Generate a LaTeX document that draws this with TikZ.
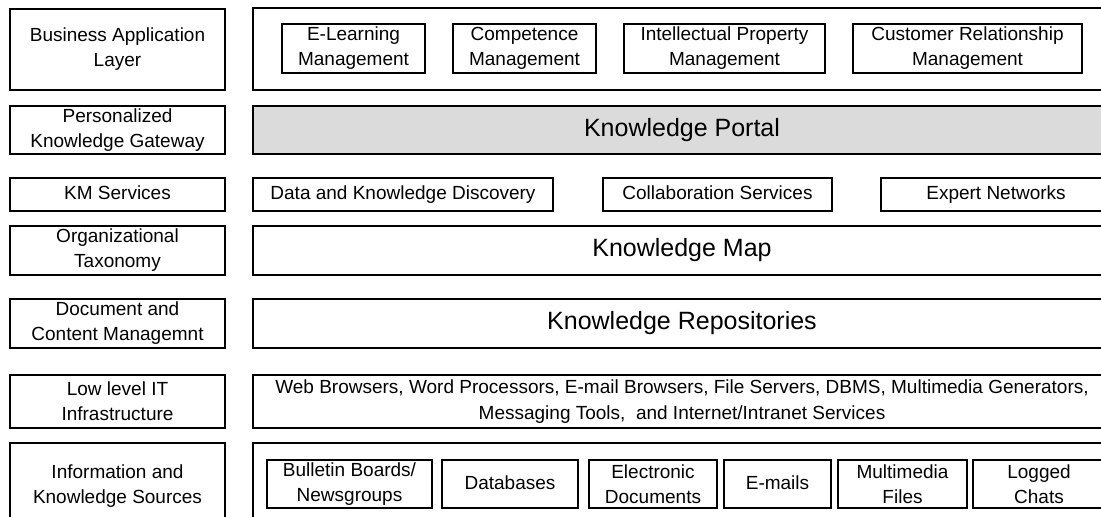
\documentclass[tikz,border=0pt]{standalone}
\usepackage{fontspec}
\setmainfont{Liberation Sans}
\usepackage{tikz}
\usetikzlibrary{positioning}
\tikzstyle{layer} = [rectangle, draw=black, line width=0.8pt, inner sep=0pt, minimum width=107.5pt, text centered, align=center, font=\fontsize{9.5}{12.5}\selectfont]
\tikzstyle{band} = [rectangle, draw=black, line width=0.8pt, inner sep=0pt, minimum width=429pt, text centered, align=center, font=\fontsize{12.5}{15}\selectfont]
\tikzstyle{item} = [rectangle, draw=black, line width=0.8pt, inner sep=0pt, text centered, align=center, font=\fontsize{9.5}{12.5}\selectfont]
\tikzstyle{oneline} = [text height=7pt, text depth=2pt]

\begin{document}
\begin{tikzpicture}[x=0.5pt, y=-0.5pt]

        \useasboundingbox (0,0) rectangle (1101,517);
        \clip (0,0) rectangle (1101,517);

        % Layer names
        \node (bal) [layer, minimum height=40.5pt] at (117.5,49.5) {Business Application\\Layer};
        \node (pkg) [layer, minimum height=24pt] at (117.5,130) {Personalized\\Knowledge Gateway};
        \node (kms) [layer, oneline, minimum height=16.5pt] at (117.5,194.5) {KM Services};
        \node (otx) [layer, minimum height=24.5pt] at (117.5,250.5) {Organizational\\Taxonomy};
        \node (dcm) [layer, minimum height=24.5pt] at (117.5,323.5) {Document and\\Content Managemnt};
        \node (llit) [layer, minimum height=26.5pt] at (117.5,401.5) {Low level IT\\Infrastructure};
        \node (iks) [layer, minimum height=43.5pt] at (117.5,486.5) {Information and\\Knowledge Sources};

        % Bands
        \node (apps) [band, minimum height=41pt] at (682,49) {};
        \node (portal) [band, minimum height=24pt, fill=black!14] at (682,130) {Knowledge Portal};
        \node (kmap) [band, minimum height=24.5pt] at (682,250.5) {Knowledge Map};
        \node (repo) [band, minimum height=24.5pt] at (682,323.5) {Knowledge Repositories};
        \node (infra) [band, minimum height=26.5pt, font=\fontsize{9.5}{13}\selectfont] at (682,401.5) {Web Browsers, Word Processors, E-mail Browsers, File Servers, DBMS, Multimedia Generators,\\Messaging Tools,~ and Internet/Intranet Services};
        \node (sources) [band, minimum height=43.5pt] at (682,486.5) {};

        % Business applications
        \node (elm) [item, minimum width=71.5pt, minimum height=24.5pt] at (353.5,48.5) {E-Learning\\Management};
        \node (cpm) [item, minimum width=71.5pt, minimum height=24.5pt] at (524.5,48.5) {Competence\\Management};
        \node (ipm) [item, minimum width=100.5pt, minimum height=24.5pt] at (724.5,48.5) {Intellectual Property\\Management};
        \node (crm) [item, minimum width=114.5pt, minimum height=24.5pt] at (967.5,48.5) {Customer Relationship\\Management};

        % KM services
        \node (dkd) [item, oneline, minimum width=150pt, minimum height=16.5pt] at (403,194.5) {Data and Knowledge Discovery};
        \node (cols) [item, oneline, minimum width=114.5pt, minimum height=16.5pt] at (717.5,194.5) {Collaboration Services};
        \node (expn) [item, oneline, minimum width=115pt, minimum height=16.5pt] at (996,194.5) {Expert Networks};

        % Sources
        \node (bbn) [item, minimum width=82.5pt, minimum height=24pt] at (349.5,484) {Bulletin Boards/\\Newsgroups};
        \node (dbs) [item, oneline, minimum width=68pt, minimum height=24pt] at (510,484) {Databases};
        \node (edoc) [item, minimum width=64pt, minimum height=24pt] at (653,484) {Electronic\\Documents};
        \node (mail) [item, oneline, minimum width=53.5pt, minimum height=24pt] at (777.5,484) {E-mails};
        \node (mmf) [item, minimum width=64.5pt, minimum height=24pt] at (902.5,484) {Multimedia\\Files};
        \node (chat) [item, minimum width=66pt, minimum height=24pt] at (1039,484) {Logged\\Chats};

    \end{tikzpicture}
\end{document}
